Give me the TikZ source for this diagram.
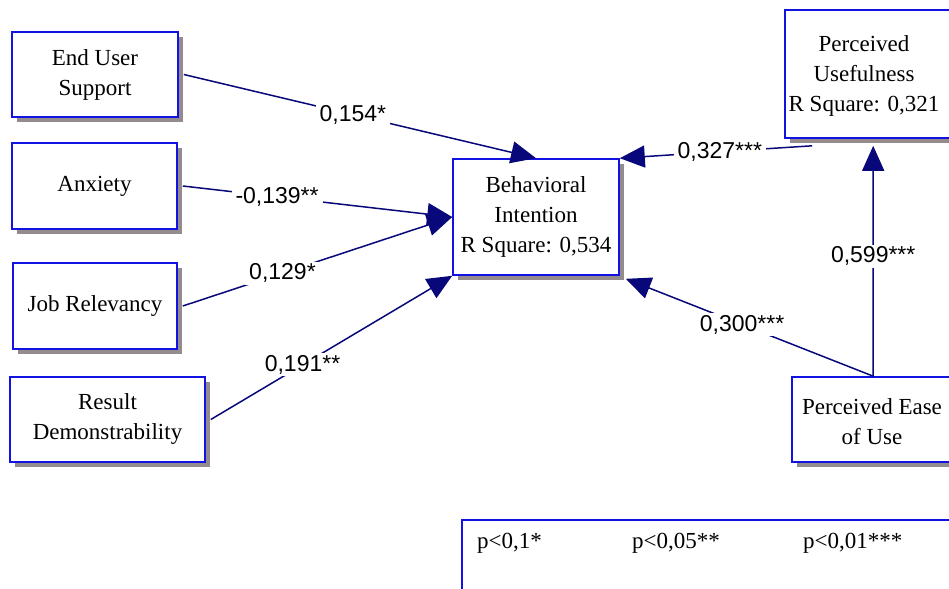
\documentclass[tikz,border=0pt]{standalone}
\usepackage{fontspec}
\setmainfont{Liberation Serif}
\newfontfamily\coeffamily{Liberation Sans}
\usetikzlibrary{arrows.meta,shadows}

\definecolor{boxblue}{RGB}{18,18,228}
\definecolor{pathnavy}{RGB}{8,8,122}
\definecolor{shadowgray}{RGB}{148,140,140}

\newcommand\constructfont{\fontsize{23bp}{30bp}\selectfont}
\newcommand\coeffont{\coeffamily\fontsize{23bp}{27bp}\selectfont}

\begin{document}
\begin{tikzpicture}[x=1bp,y=-1bp,
  frame/.style={draw=boxblue, line width=1.6bp, fill=white, inner sep=0pt},
  construct/.style={frame, align=center, font=\constructfont,
    drop shadow={shadow xshift=5bp, shadow yshift=-5bp, fill=shadowgray, opacity=1}},
  boxtext/.style={align=center, font=\constructfont, inner sep=0pt},
  link/.style={draw=pathnavy, line width=1.5bp,
    -{Triangle[length=25bp,width=22bp]}, line cap=butt},
  coef/.style={fill=white, font=\coeffont, inner xsep=4bp, inner ysep=2bp},
  legendtext/.style={font=\constructfont, inner sep=0pt, anchor=west}
]
\clip (0,0) rectangle (949,589);
\fill[white] (0,0) rectangle (949,589);

% exogenous constructs
\node[construct, minimum width=166bp, minimum height=85bp] (eus) at (95,74.5) {End User\\Support};
\node[construct, minimum width=165bp, minimum height=86bp] (anx) at (94.5,186) {Anxiety};
\node[construct, minimum width=164bp, minimum height=86bp] (jr) at (95,306) {Job Relevancy};
\node[construct, minimum width=195bp, minimum height=85bp] (rd) at (107.5,419.5) {Result\\Demonstrability};

% endogenous construct
\node[construct, minimum width=166bp, minimum height=116bp] (bi) at (536,217) {Behavioral\\Intention\\R Square: 0,534};

% TAM constructs on the right
\node[construct, minimum width=175bp, minimum height=128bp] (pu) at (872.5,74) {};
\node[boxtext] (putext) at (864,76) {Perceived\\Usefulness\\R Square: 0,321};
\node[construct, minimum width=168bp, minimum height=85bp] (peou) at (876,419.5) {};
\node[boxtext] (peoutext) at (872,422) {Perceived Ease\\of Use};

% significance legend
\node[frame, minimum width=498bp, minimum height=80bp] (legend) at (711,560) {};
\node[legendtext] (p1) at (477,543) {p<0,1*};
\node[legendtext] (p2) at (632,543) {p<0,05**};
\node[legendtext] (p3) at (803,543) {p<0,01***};

% structural paths
\draw[link] ([xshift=5bp]eus.east) -- node[coef,pos=.48]{0,154*} (bi.north);
\draw[link] ([xshift=5bp]anx.east) -- node[coef,pos=.35]{-0,139**} (bi.west);
\draw[link] ([xshift=5bp]jr.east) -- node[coef,pos=.37]{0,129*} (bi.west);
\draw[link] ([xshift=5bp]rd.east) -- node[coef,pos=.38]{0,191**} (bi.south west);
\draw[link] ([xshift=28bp,yshift=-7bp]pu.south west) -- node[coef,pos=.48]{0,327***} (bi.north east);
\draw[link] ([xshift=82bp]peou.north west) -- node[coef,pos=.52]{0,599***} ([xshift=89bp,yshift=-7bp]pu.south west);
\draw[link] ([xshift=82bp]peou.north west) -- node[coef,pos=.53]{0,300***} ([xshift=6bp,yshift=-3bp]bi.south east);
\end{tikzpicture}
\end{document}
